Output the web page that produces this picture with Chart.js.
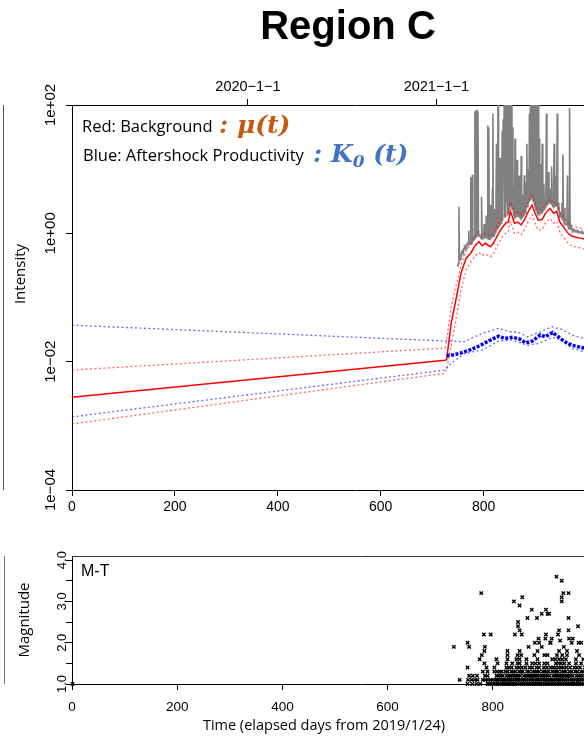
<!DOCTYPE html>
<html>
<head>
<meta charset="utf-8">
<script src="https://cdn.jsdelivr.net/npm/chart.js@4.4.1/dist/chart.umd.min.js"></script>
<style>
html, body { margin:0; padding:0; background:#fff; }
body { width:584px; height:747px; overflow:hidden; position:relative; font-family:'Liberation Sans', Arial, sans-serif; }
canvas { position:absolute; left:0; }
#main { top:0; }
#mt { top:530px; }
.t { position:absolute; white-space:nowrap; z-index:2; color:#000; }
.os { font-family:'Open Sans', sans-serif; }
.math { font-family:'DejaVu Serif', serif; font-weight:bold; font-style:italic; font-size:25px; line-height:25px; }
.rot { transform:translate(-50%,-50%) rotate(-90deg); }
.nb { position:absolute; z-index:1; }
</style>
</head>
<body>
<canvas id="main" width="660" height="530"></canvas>
<canvas id="mt" width="660" height="217"></canvas>

<div class="nb" style="left:3px;top:105px;width:0;height:385px;border-left:1px solid #555;"></div>
<div class="nb" style="left:4px;top:556px;width:0;height:128px;border-left:1px solid #777;"></div>

<div class="t" style="left:348px;top:5px;transform:translateX(-50%);font-weight:bold;font-size:40px;line-height:40px;">Region C</div>
<div class="t os" style="left:82px;top:118px;font-size:16.5px;line-height:16.5px;">Red: Background</div>
<div class="t math" style="left:219px;top:112px;color:#c55a11;">: μ(t)</div>
<div class="t os" style="left:83px;top:147px;font-size:16.5px;line-height:16.5px;">Blue: Aftershock Productivity</div>
<div class="t math" style="left:313px;top:141px;color:#4472c4;">: K<sub style="font-size:17px;vertical-align:-5px;">0</sub> (t)</div>
<div class="t os rot" style="left:19px;top:274px;font-size:15px;line-height:15px;">Intensity</div>
<div class="t os rot" style="left:23px;top:620px;font-size:15px;line-height:15px;">Magnitude</div>
<div class="t os" style="left:324px;top:718px;transform:translateX(-50%);font-size:14.5px;line-height:14.5px;">Time (elapsed days from 2019/1/24)</div>
<div class="t" style="left:81px;top:563px;font-size:16px;line-height:16px;">M-T</div>

<script>
// ---- data ----
const dayTicks = [0, 200, 400, 600, 800];
const dateTickDays = [342, 708, 1073];
const dateTickLabels = ['2020\u22121\u22121', '2021\u22121\u22121', '2022\u22121\u22121'];
const intensityTicks = [1e-4, 1e-2, 1, 100];
const intensityLabels = ['1e\u221204', '1e\u221202', '1e+00', '1e+02'];
const magTicks = [1, 1.5, 2, 2.5, 3, 3.5, 4];
const magLabelTicks = [1, 2, 3, 4];
const magLabels = ['1.0', '2.0', '3.0', '4.0'];

// background mu(t) with its confidence band
const muDays = [0, 725, 728, 737, 747, 756, 766, 775, 784, 791, 797, 803, 813, 819, 829, 835, 843, 848, 852, 856, 860, 866, 873, 879, 885, 894, 900, 906, 914, 920, 929, 936, 942, 948, 955, 964, 972, 985, 1000];
const mu = [0.0028, 0.0105, 0.0107, 0.04, 0.10, 0.24, 0.41, 0.49, 0.66, 0.74, 0.64, 0.70, 0.62, 0.70, 1.0, 1.2, 1.44, 1.5, 2.2, 1.8, 1.44, 1.5, 1.35, 1.6, 2.05, 2.75, 2.05, 1.6, 1.65, 2.05, 2.45, 2.05, 2.2, 1.5, 1.27, 1.0, 0.90, 0.85, 0.8];
const muUpper = [0.0074, 0.0163, 0.021, 0.072, 0.16, 0.32, 0.55, 0.66, 0.92, 1.05, 0.92, 1.0, 0.9, 1.0, 1.42, 1.7, 2.05, 2.15, 3.1, 2.55, 2.05, 2.15, 1.95, 2.3, 2.9, 3.9, 2.9, 2.3, 2.35, 2.9, 3.45, 2.9, 3.1, 2.15, 1.8, 1.45, 1.3, 1.22, 1.15];
const muLower = [0.00107, 0.0066, 0.0075, 0.018, 0.05, 0.13, 0.27, 0.36, 0.45, 0.50, 0.45, 0.48, 0.43, 0.48, 0.70, 0.85, 1.0, 1.05, 1.55, 1.25, 1.0, 1.05, 0.95, 1.12, 1.45, 1.95, 1.45, 1.12, 1.15, 1.45, 1.7, 1.45, 1.55, 1.05, 0.88, 0.70, 0.63, 0.6, 0.56];

// aftershock productivity K0(t) with its band
const k0Days = [728, 742, 756, 775, 794, 813, 829, 841, 857, 870, 882, 895, 910, 920, 934, 945, 958, 972, 985, 1000];
const k0 = [0.0124, 0.0128, 0.0137, 0.0154, 0.018, 0.0217, 0.025, 0.023, 0.024, 0.0225, 0.0196, 0.021, 0.026, 0.0245, 0.0285, 0.0245, 0.0204, 0.018, 0.017, 0.016];
const k0BandDays = [0, 725, 737, 762, 775, 800, 829, 854, 866, 885, 907, 933, 951, 972, 985, 1000];
const k0Upper = [0.037, 0.021, 0.021, 0.0204, 0.023, 0.028, 0.033, 0.029, 0.029, 0.0245, 0.0285, 0.035, 0.032, 0.026, 0.024, 0.023];
const k0Lower = [0.00138, 0.0074, 0.0095, 0.0132, 0.014, 0.0155, 0.021, 0.0217, 0.0204, 0.018, 0.0192, 0.024, 0.0217, 0.016, 0.015, 0.014];

// observed daily intensity (grey), one value per day from day 750
const obsStart = 750;
const observed = [
  0.30, 0.34, 2.6, 0.38, 0.42, 0.40, 0.45, 0.50, 0.48, 0.52,
  0.55, 0.53, 0.58, 0.60, 0.57, 0.62, 0.65, 0.62, 0.66, 0.68,
  0.66, 1.1, 0.70, 0.72, 0.68, 7.5, 0.70, 0.74, 8.2, 0.76,
  0.80, 0.85, 0.82, 80, 0.86, 0.90, 85, 0.92, 0.95, 80,
  0.94, 0.96, 0.92, 0.90, 0.88, 0.84, 3.7, 0.82, 0.85, 0.84,
  0.86, 1.4, 0.88, 0.9, 0.88, 1.9, 0.86, 0.84, 48, 0.82,
  45, 0.80, 0.82, 2.8, 0.84, 0.86, 0.88, 5, 74, 0.9,
  0.95, 2.4, 1.0, 1.05, 4, 25, 1.15, 1.2, 200, 1.25,
  1.3, 6, 15, 1.4, 1.45, 3, 40, 1.55, 60, 8,
  120, 1.75, 5, 1.8, 150, 3, 58, 1.88, 200, 2.0,
  3.5, 200, 2.6, 80, 200, 2.3, 45, 6, 2.0, 1.9,
  1.85, 30, 1.8, 1.85, 5, 14, 1.9, 1.85, 3, 8,
  1.8, 1.75, 1.7, 16, 1.75, 1.8, 4, 1.9, 1.95, 8,
  2.05, 2.1, 2.2, 6, 25, 2.6, 2.8, 10, 3.0, 74,
  3.2, 200, 3.4, 200, 3.5, 200, 3.2, 200, 3.0, 2.8,
  200, 2.5, 2.3, 200, 2.1, 2.0, 200, 2.0, 30, 2.0,
  2.05, 12, 2.1, 2.1, 25, 2.2, 2.3, 6, 2.4, 2.5,
  2.6, 4, 74, 2.8, 2.9, 3.0, 9, 3.0, 3.1, 5,
  3.0, 2.9, 11, 2.8, 2.7, 2.6, 6, 25, 2.6, 2.65,
  8, 2.7, 2.75, 74, 2.5, 2.3, 3, 2.1, 1.9, 2.0,
  1.8, 1.75, 3, 1.65, 17, 1.6, 1.5, 2.5, 1.45, 1.4,
  1.38, 1.35, 2, 8, 1.3, 1.25, 1.3, 90, 1.2, 1.18,
  1.15, 1.2, 1.13, 1.1, 1.15, 1.12, 1.1, 1.12, 1.1, 1.08,
  1.1, 1.08, 1.1, 1.06, 1.05, 1.07, 1.05, 1.04, 1.05, 1.03,
  1.02, 1.04, 1.0, 1.02, 1.0, 1.01, 0.99, 1.0, 0.98, 1.0
];

// M-T plot: event days per magnitude row, plus the scattered larger events
const m10 = [1, 752, 761, 769, 776, 790, 793, 798, 801, 806, 809, 813, 818, 821, 825, 829, 832, 836, 840, 843, 847, 851, 855, 858, 862, 866, 869, 873, 877, 880, 884, 888, 891, 895, 899, 903, 906, 910, 914, 917, 921, 925, 928, 932, 936, 940, 943, 947, 951, 954, 958, 962, 965, 969, 973, 977, 981, 985];
const m11 = [737, 753, 760, 766, 771, 781, 786, 791, 796, 800, 805, 808, 812, 816, 820, 823, 827, 831, 834, 838, 842, 846, 849, 853, 857, 860, 864, 868, 872, 875, 879, 883, 886, 890, 894, 898, 901, 905, 909, 912, 916, 920, 924, 927, 931, 935, 938, 942, 946, 950, 953, 957, 961, 964, 968, 972, 976, 980, 984];
const m12 = [755, 762, 770, 785, 790, 807, 811, 815, 819, 826, 830, 833, 837, 841, 844, 848, 852, 859, 863, 867, 871, 874, 878, 882, 885, 889, 893, 896, 900, 904, 908, 915, 919, 922, 926, 930, 933, 937, 941, 944, 948, 952, 959, 963, 967, 970, 978, 982];
const m13 = [781, 790, 803, 808, 813, 817, 824, 828, 835, 839, 843, 850, 854, 857, 865, 869, 876, 880, 884, 888, 895, 899, 902, 906, 913, 917, 921, 924, 931, 935, 939, 946, 950, 957, 961, 968, 972, 979];
const m14 = [752, 788, 803, 826, 831, 836, 845, 850, 855, 862, 870, 875, 883, 888, 897, 903, 910, 915, 919, 925, 930, 934, 940, 947, 955, 960, 966, 975];
const m15 = [784, 809, 826, 837, 847, 851, 864, 875, 881, 888, 898, 904, 920, 925, 930, 936, 945, 958, 968, 980];
const m16 = [775, 807, 828, 845, 851, 864, 885, 913, 919, 926, 932, 939, 958, 972];
const m17 = [779, 828, 847, 854, 879, 898, 904, 922, 932, 941, 964];
const m18 = [784, 828, 851, 885, 926, 941, 960];
const bigDays = [726, 752, 755, 785, 778, 783, 796, 840, 856, 851, 874, 866, 884, 848, 848, 851, 842, 855, 901, 904, 907, 893, 921, 931, 934, 944, 931, 931, 944, 926, 944, 887, 900, 912, 945, 952, 901, 924, 868, 880, 893, 910, 935, 950, 962, 968, 888, 909, 928, 963];
const bigMags = [1.9, 2.0, 1.9, 1.9, 3.2, 2.2, 2.2, 3.0, 3.1, 2.9, 2.8, 2.6, 2.6, 2.5, 2.4, 2.3, 2.2, 2.2, 2.8, 2.7, 2.7, 2.7, 3.6, 3.5, 3.2, 3.2, 3.1, 3.0, 2.6, 2.3, 2.3, 2.1, 2.1, 2.1, 2.1, 2.1, 2.2, 2.2, 1.9, 2.0, 1.9, 2.0, 1.9, 2.0, 2.4, 2.0, 2.0, 2.0, 2.05, 2.0];

// ---- helpers ----
const pts = (xs, ys) => xs.map((x, i) => ({ x: x, y: ys[i] }));
const FONT = "'Liberation Sans', Arial, sans-serif";

const yLabels = {
  id: 'yLabels',
  afterDraw(chart, args, o) {
    const s = chart.scales.y, ctx = chart.ctx;
    ctx.save();
    ctx.font = o.font;
    ctx.fillStyle = '#000';
    ctx.textAlign = 'center';
    ctx.textBaseline = 'alphabetic';
    o.values.forEach((v, i) => {
      ctx.save();
      ctx.translate(o.x, s.getPixelForValue(v));
      ctx.rotate(-Math.PI / 2);
      ctx.fillText(o.labels[i], 0, 0);
      ctx.restore();
    });
    ctx.restore();
  }
};

const axisGrid = { display: true, drawOnChartArea: false, drawTicks: true, tickLength: 6, color: '#000', lineWidth: 1 };
const axisBorder = { display: true, color: '#000', width: 1 };

// ---- intensity panel ----
new Chart(document.getElementById('main'), {
  type: 'line',
  data: {
    datasets: [
      { data: pts(k0Days, k0), borderColor: '#0000ff', borderWidth: 3.5, borderDash: [3, 1.5], pointRadius: 0, clip: 0 },
      { data: pts(k0BandDays, k0Upper), borderColor: 'rgba(0,0,255,0.6)', borderWidth: 1.3, borderDash: [2, 2.5], pointRadius: 0, clip: 0 },
      { data: pts(k0BandDays, k0Lower), borderColor: 'rgba(0,0,255,0.6)', borderWidth: 1.3, borderDash: [2, 2.5], pointRadius: 0, clip: 0 },
      { data: pts(muDays, mu), borderColor: '#ff0000', borderWidth: 1.5, pointRadius: 0, clip: 0 },
      { data: pts(muDays, muUpper), borderColor: 'rgba(255,0,0,0.6)', borderWidth: 1.3, borderDash: [2, 2.5], pointRadius: 0, clip: 0 },
      { data: pts(muDays, muLower), borderColor: 'rgba(255,0,0,0.6)', borderWidth: 1.3, borderDash: [2, 2.5], pointRadius: 0, clip: 0 },
      { data: observed.map((v, i) => ({ x: obsStart + i, y: v })), borderColor: '#808080', borderWidth: 1.6, pointRadius: 0, clip: 0 }
    ]
  },
  options: {
    responsive: false, animation: false, events: [],
    layout: { padding: { left: 0, right: 9.4, top: 0, bottom: 0 } },
    plugins: {
      legend: { display: false }, tooltip: { enabled: false },
      yLabels: { x: 55, font: '15px ' + FONT, values: intensityTicks, labels: intensityLabels }
    },
    scales: {
      x: {
        type: 'linear', position: 'bottom', min: 0, max: 1100,
        afterFit: s => { s.height = 40; },
        afterBuildTicks: s => { s.ticks = dayTicks.map(v => ({ value: v })); },
        grid: axisGrid, border: axisBorder,
        ticks: { autoSkip: false, maxRotation: 0, padding: 3, color: '#000', font: { family: FONT, size: 14 },
          callback: v => String(v) }
      },
      xTop: {
        type: 'linear', position: 'top', min: 0, max: 1100,
        afterFit: s => { s.height = 105; },
        afterBuildTicks: s => { s.ticks = dateTickDays.map(v => ({ value: v })); },
        grid: axisGrid, border: axisBorder,
        ticks: { autoSkip: false, maxRotation: 0, padding: 3, color: '#000', font: { family: FONT, size: 14.5 },
          callback: (v) => dateTickLabels[dateTickDays.indexOf(v)] }
      },
      y: {
        type: 'logarithmic', min: 1e-4, max: 100,
        afterFit: s => { s.width = 72; },
        afterBuildTicks: s => { s.ticks = intensityTicks.map(v => ({ value: v })); },
        grid: axisGrid, border: axisBorder,
        ticks: { display: false }
      }
    }
  },
  plugins: [yLabels]
});

// ---- M-T panel ----
const mtPoints = [].concat(
  m10.map(d => ({ x: d, y: 1.0 })), m11.map(d => ({ x: d, y: 1.1 })), m12.map(d => ({ x: d, y: 1.2 })),
  m13.map(d => ({ x: d, y: 1.3 })), m14.map(d => ({ x: d, y: 1.4 })), m15.map(d => ({ x: d, y: 1.5 })),
  m16.map(d => ({ x: d, y: 1.6 })), m17.map(d => ({ x: d, y: 1.7 })), m18.map(d => ({ x: d, y: 1.8 })),
  pts(bigDays, bigMags)
);

new Chart(document.getElementById('mt'), {
  type: 'scatter',
  data: {
    datasets: [
      { data: mtPoints, pointStyle: 'crossRot', pointRadius: 2.4, borderColor: '#000', borderWidth: 1.4, backgroundColor: '#000', clip: 2 }
    ]
  },
  options: {
    responsive: false, animation: false, events: [],
    layout: { padding: { left: 0, right: 9.4, top: 26, bottom: 0 } },
    plugins: {
      legend: { display: false }, tooltip: { enabled: false },
      yLabels: { x: 66, font: '13px ' + FONT, values: magLabelTicks, labels: magLabels }
    },
    scales: {
      x: {
        type: 'linear', position: 'bottom', min: 0, max: 1100,
        afterFit: s => { s.height = 63; },
        afterBuildTicks: s => { s.ticks = dayTicks.map(v => ({ value: v })); },
        grid: axisGrid, border: axisBorder,
        ticks: { autoSkip: false, maxRotation: 0, padding: 9, color: '#000', font: { family: FONT, size: 13.5 },
          callback: v => String(v) }
      },
      xTop: {
        type: 'linear', position: 'top', min: 0, max: 1100,
        afterFit: s => { s.height = 0; },
        grid: { display: false }, border: { display: true, color: '#333', width: 1 },
        ticks: { display: false }
      },
      y: {
        type: 'linear', min: 1, max: 4.1,
        afterFit: s => { s.width = 72; },
        afterBuildTicks: s => { s.ticks = magTicks.map(v => ({ value: v })); },
        grid: axisGrid, border: axisBorder,
        ticks: { display: false }
      }
    }
  },
  plugins: [yLabels]
});
</script>
</body>
</html>
